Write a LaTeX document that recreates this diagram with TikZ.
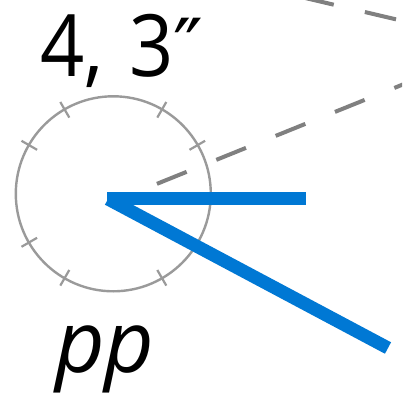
\documentclass[tikz,border=0pt]{standalone}
\usepackage{fontspec}
\setmainfont{Open Sans}
\newfontfamily\primefont{DejaVu Sans}
\usetikzlibrary{calc}
\definecolor{blueline}{HTML}{0078D4}
\definecolor{dialgray}{HTML}{9A9A9A}
\definecolor{dashgray}{HTML}{808080}
\tikzset{
  bigtext/.style={inner sep=0pt, font=\fontsize{86}{86}\selectfont},
  dialring/.style={draw=dialgray, line width=2.4pt},
  dialtick/.style={draw=dialgray, line width=2.2pt},
  guide/.style={draw=dashgray, line width=4pt, dash pattern=on 32pt off 32pt},
  hand/.style={draw=blueline, line width=13pt, line cap=butt},
}
\begin{document}
\begin{tikzpicture}[x=1pt, y=-1pt]
\useasboundingbox (0,0) rectangle (402,411);
\clip (0,0) rectangle (402,411);
\fill[white] (0,0) rectangle (402,411);
% dial
\coordinate (C) at (113.3,193.8);
\draw[dialring] (C) circle[radius=97.5];
\foreach \a in {30,60,120,150,210,240,300,330}{
  \draw[dialtick] ($(C)+(\a:88)$) -- ($(C)+(\a:106)$);
}
% guides
\coordinate (G0) at (112,202);
\coordinate (G1) at ($(G0)+(-22:340)$);
\draw[guide, dash phase=15.5pt] (G0) -- (G1);
\coordinate (T0) at (250,-15);
\coordinate (T1) at (420,25);
\draw[guide, dash phase=10pt] (T0) -- (T1);
% hands
\coordinate (O) at (107,199);
\coordinate (H) at (306,199);
\coordinate (D) at (388,348);
\draw[hand] (O) -- (H);
\draw[hand] ($(O)+(1,0)$) -- (D);
% labels
\node[bigtext, anchor=base west] (val) at (40,77) {\scalebox{0.9}[1]{4,\hspace{29pt}3}{\primefont\fontsize{80}{80}\selectfont ″}};
\node[bigtext, anchor=base west] (pp) at (55,372) {\itshape pp};
\end{tikzpicture}
\end{document}
